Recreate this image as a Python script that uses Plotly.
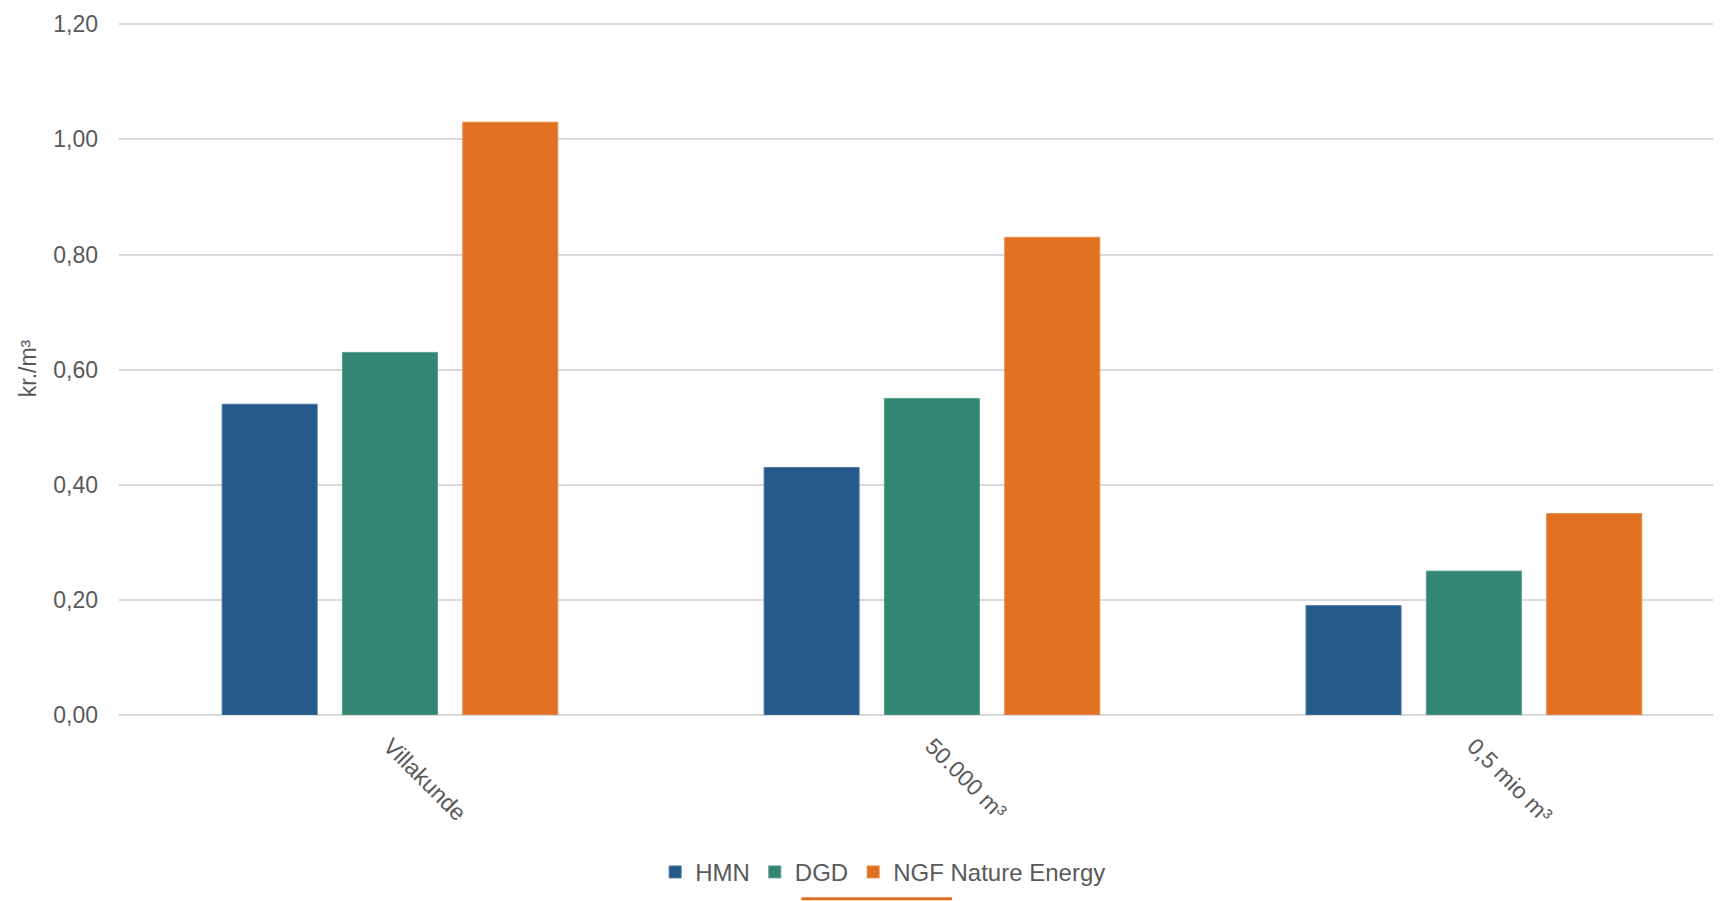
import plotly.graph_objects as go

categories = ["Villakunde", "50.000 m³", "0,5 mio m³"]
hmn = [0.54, 0.43, 0.19]
dgd = [0.63, 0.55, 0.25]
ngf = [1.03, 0.83, 0.35]
series_names = ["HMN", "DGD", "NGF Nature Energy"]
colors = ["#255A8A", "#338673", "#E07022"]
border_colors = ["#4F7AA3", "#5A9E8E", "#EA8C4A"]
y_tickvals = [0.0, 0.2, 0.4, 0.6, 0.8, 1.0, 1.2]
y_ticktext = ["0,00", "0,20", "0,40", "0,60", "0,80", "1,00", "1,20"]

# page has an 8px body margin, so figure is sized to fit the window
W, H = 1713, 893
L, R, T, B = 111, 0, 14, 186
font_family = "Liberation Sans, Arial, sans-serif"
txt_color = "#595959"

fig = go.Figure()
for name, vals, c, bc in zip(series_names, [hmn, dgd, ngf], colors, border_colors):
    fig.add_trace(go.Bar(
        x=list(range(len(categories))), y=vals, name=name,
        marker=dict(color=c, line=dict(color=bc, width=1)),
        hoverinfo="skip",
    ))

fig.update_layout(
    width=W, height=H,
    margin=dict(l=L, r=R, t=T, b=B, autoexpand=False),
    paper_bgcolor="white", plot_bgcolor="white",
    barmode="group", bargap=0.334, bargroupgap=0.21,
    font=dict(family=font_family, size=23, color=txt_color),
    showlegend=True,
    legend=dict(orientation="h", x=0.477, xanchor="center", y=-0.227, yanchor="middle",
                font=dict(size=24, color=txt_color), itemwidth=30, traceorder="normal",
                bgcolor="rgba(0,0,0,0)"),
    xaxis=dict(
        tickmode="array", tickvals=list(range(len(categories))), ticktext=categories,
        range=[-0.5, 2.456], tickangle=45, showgrid=False, zeroline=False,
        showline=False, ticks="", ticklabelstandoff=12,
        tickfont=dict(size=23, color=txt_color), automargin=False,
    ),
    yaxis=dict(
        range=[0, 1.204], tickmode="array", tickvals=y_tickvals, ticktext=y_ticktext,
        showgrid=True, gridcolor="#D9D9D9", gridwidth=1.5,
        zeroline=True, zerolinecolor="#D9D9D9", zerolinewidth=1.5,
        showline=False, ticks="", ticklabelstandoff=20,
        tickfont=dict(size=23, color=txt_color), automargin=False,
        title=dict(text="kr./m³", standoff=10, font=dict(size=23, color=txt_color)),
    ),
)

fig.add_shape(type="line", xref="paper", yref="paper",
              x0=0.426, x1=0.52, y0=-0.265, y1=-0.265,
              line=dict(color="#E07022", width=3))

fig.write_html("out.html")
